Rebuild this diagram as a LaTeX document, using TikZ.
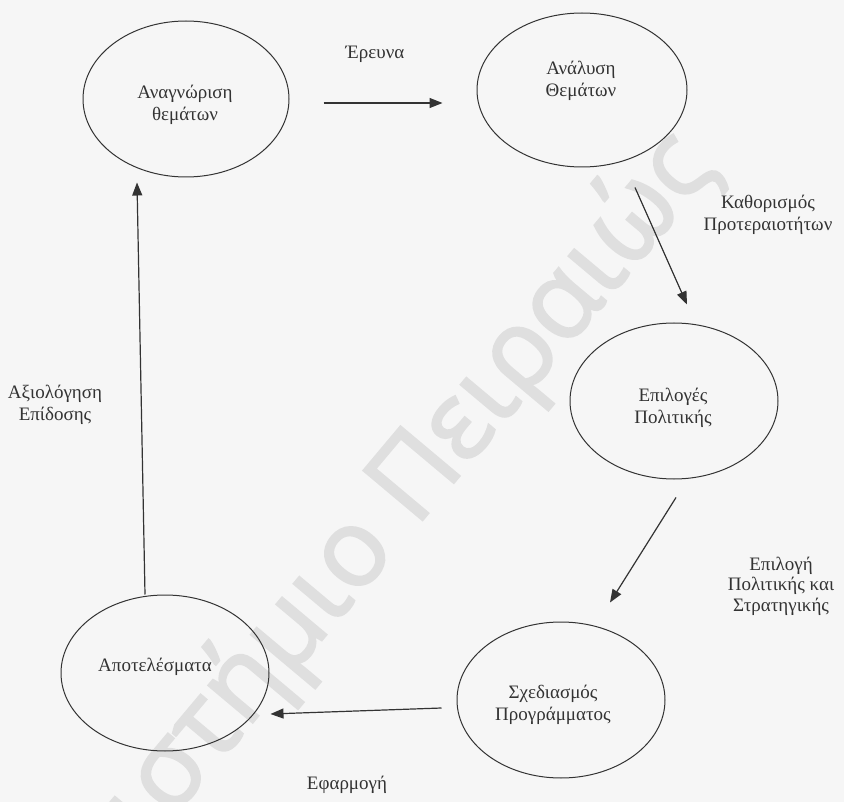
\documentclass[tikz,border=0pt]{standalone}
\usepackage{fontspec}
\setmainfont{Liberation Serif}
\newfontfamily\wmfont[FakeBold=2]{Open Sans}
\usetikzlibrary{shapes.geometric,arrows.meta}
\definecolor{ink}{HTML}{333333}
\definecolor{paper}{HTML}{F6F6F6}
\definecolor{wmgray}{HTML}{DFDFDF}
\begin{document}
\begin{tikzpicture}[x=1pt,y=-1pt,
  stage/.style={ellipse, draw=ink, line width=1pt, minimum width=208pt,
    minimum height=156pt, inner sep=0pt},
  txt/.style={align=center, text=ink, inner sep=0pt,
    font=\fontsize{19}{22.5}\selectfont},
  flow/.style={draw=ink, line width=1.2pt,
    -{Triangle[length=13pt,width=10pt]}},
  wmark/.style={rotate=50, anchor=base east, text=wmgray, inner sep=0pt,
    font=\wmfont\fontsize{108}{108}\selectfont},
]
% page
\fill[paper] (0,0) rectangle (844,802);
\useasboundingbox (0,0) rectangle (844,802);

% watermark
\begin{scope}
  \clip (0,0) rectangle (844,802);
  \node[wmark] (wm) at (718,168) {Πανεπιστήμιο Πειραιώς};
\end{scope}

% stages of the cycle
\node[stage, minimum width=206pt] (e1) at (186,99) {};
\node[stage, minimum width=210pt, minimum height=154pt] (e2) at (582,90) {};
\node[stage] (e3) at (674,401) {};
\node[stage] (e4) at (561,700) {};
\node[stage] (e5) at (165,673) {};

\node[txt] (t1) at ([shift={(-1,6)}]e1.center) {Αναγνώριση\\θεμάτων};
\node[txt] (t2) at ([shift={(-1,-9)}]e2.center) {Ανάλυση\\Θεμάτων};
\node[txt] (t3) at ([shift={(-1,7)}]e3.center) {Επιλογές\\Πολιτικής};
\node[txt] (t4) at ([shift={(-8,5)}]e4.center) {Σχεδιασμός\\Προγράμματος};
\node[txt] (t5) at ([shift={(-10,-6)}]e5.center) {Αποτελέσματα};

% transitions
\draw[flow] ([shift={(34,4)}]e1.east) -- ([shift={(-34,13)}]e2.west);
\draw[flow] ([shift={(53,20)}]e2.south) -- ([shift={(13,-18)}]e3.north);
\draw[flow] ([shift={(2,18)}]e3.south) -- ([shift={(49,-19)}]e4.north);
\draw[flow] ([shift={(-15,8)}]e4.west) -- ([shift={(1,41)}]e5.east);
\draw[flow] ([shift={(-20,0)}]e5.north) -- ([shift={(-49,5)}]e1.south);

% transition labels
\node[txt] (l1) at (375,54) {Έρευνα};
\node[txt] (l2) at (768,215) {Καθορισμός\\Προτεραιοτήτων};
\node[txt, font=\fontsize{19}{20.5}\selectfont] (l3) at (781,586) {Επιλογή\\Πολιτικής και\\Στρατηγικής};
\node[txt] (l5) at (347,785) {Εφαρμογή};
\node[txt] (l6) at (55,405) {Αξιολόγηση\\Επίδοσης};
\end{tikzpicture}
\end{document}
